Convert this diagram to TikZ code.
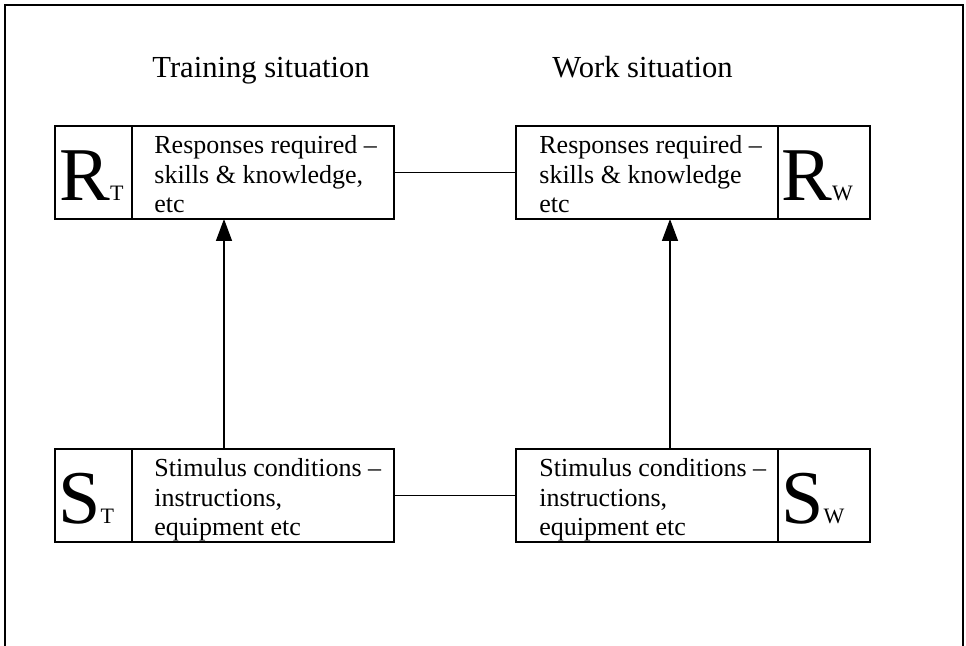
\documentclass[tikz,border=0pt]{standalone}
\usepackage{fontspec}
\setmainfont{Liberation Serif}
\usetikzlibrary{arrows.meta,calc}
\begin{document}
\begin{tikzpicture}[x=0.5pt,y=-0.5pt,
  cell/.style={draw,line width=0.75pt,inner sep=0,outer sep=0,minimum height=46.5pt,anchor=north west},
  tag/.style={cell,minimum width=38.5pt},
  tagw/.style={cell,minimum width=46pt},
  body/.style={cell,minimum width=131pt},
  bodytext/.style={inner sep=0,anchor=north west,align=left,font=\fontsize{13}{14.75}\selectfont},
  big/.style={inner sep=0,anchor=base west},
  title/.style={inner sep=0,anchor=base west,font=\fontsize{15.3}{18}\selectfont},
  link/.style={line width=0.75pt},
  flow/.style={line width=0.75pt,-{Triangle[width=8pt,length=11pt]}}]
\useasboundingbox (0,0) rectangle (966,646);

% outer frame, open at the bottom edge
\draw[line width=1pt] (5,650) -- (5,5) -- (963,5) -- (963,650);

% column headings
\node[title] (htrain) at (152,78) {Training situation};
\node[title] (hwork) at (552,78) {Work situation};

% training situation boxes
\node[tag] (rtag) at (55,126) {};
\node[body] (rbody) at (rtag.north east) {};
\node[tag] (stag) at (55,449) {};
\node[body] (sbody) at (stag.north east) {};

% work situation boxes
\node[body] (rwbody) at (516,126) {};
\node[tagw] (rwtag) at (rwbody.north east) {};
\node[body] (swbody) at (516,449) {};
\node[tagw] (swtag) at (swbody.north east) {};

% symbols
\newcommand\bigsym[2]{{\fontsize{38}{38}\selectfont #1}{\fontsize{11}{11}\selectfont #2}}
\node[big] (rt) at ($(rtag.south west)+(4,-18)$) {\bigsym{R}{T}};
\node[big] (st) at ($(stag.south west)+(3,-18)$) {\bigsym{S}{T}};
\node[big] (rw) at ($(rwtag.south west)+(3,-18)$) {\bigsym{R}{W}};
\node[big] (sw) at ($(swtag.south west)+(3,-18)$) {\bigsym{S}{W}};

% descriptions
\node[bodytext] (rbt) at ($(rbody.north west)+(22,9.5)$) {Responses required --\\skills \& knowledge,\\etc};
\node[bodytext] (sbt) at ($(sbody.north west)+(22,9.5)$) {Stimulus conditions --\\instructions,\\equipment etc};
\node[bodytext] (rwbt) at ($(rwbody.north west)+(23,9.5)$) {Responses required --\\skills \& knowledge\\etc};
\node[bodytext] (swbt) at ($(swbody.north west)+(23,9.5)$) {Stimulus conditions --\\instructions,\\equipment etc};

% connectors
\coordinate (la) at (224,0);
\coordinate (ra) at (670,0);
\draw[flow] (sbody.north -| la) -- (rbody.south -| la);
\draw[flow] (swbody.north -| ra) -- (rwbody.south -| ra);
\draw[link] (rbody.east) -- (rwbody.west);
\draw[link] (sbody.east) -- (swbody.west);
\end{tikzpicture}
\end{document}
